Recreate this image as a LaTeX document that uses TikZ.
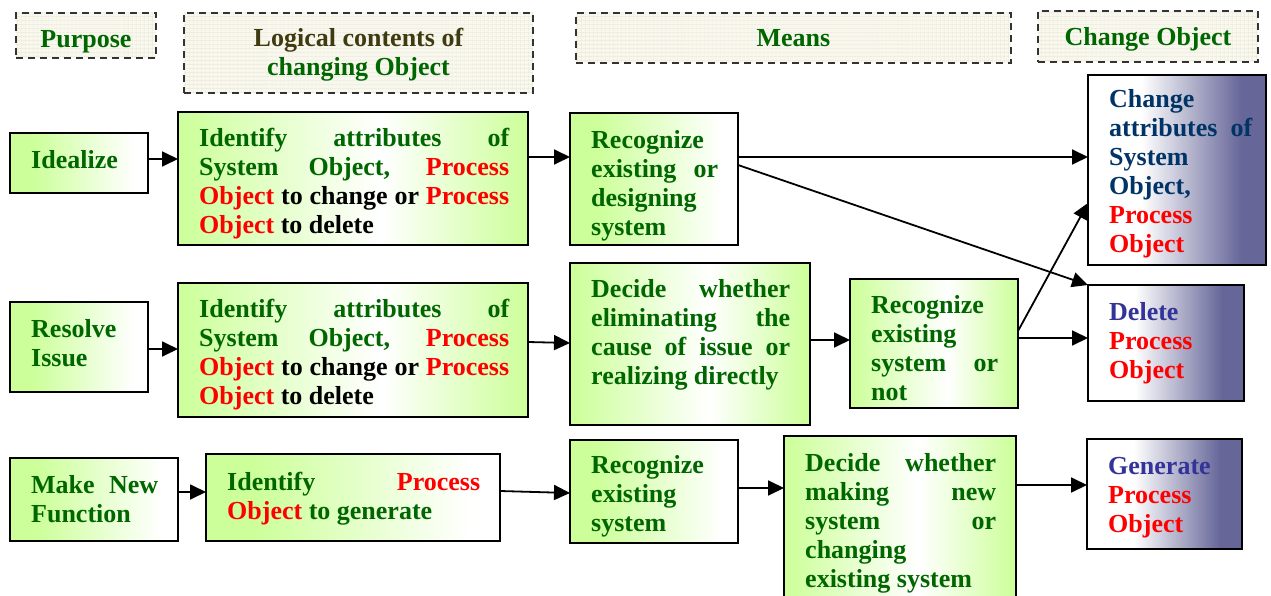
\documentclass[tikz,border=0pt]{standalone}
\usepackage{fontspec}
\setmainfont{Liberation Serif}
\usetikzlibrary{arrows.meta,patterns.meta,calc}
\definecolor{dg}{RGB}{0,102,0}
\definecolor{lg}{RGB}{204,255,153}
\definecolor{pu}{RGB}{102,102,153}
\definecolor{nv}{RGB}{0,51,102}
\definecolor{bp}{RGB}{51,51,153}
\definecolor{ol}{RGB}{64,58,16}
\definecolor{cream}{RGB}{249,248,238}
\definecolor{gridc}{RGB}{234,232,214}
\pgfdeclarehorizontalshading{gw}{100bp}{color(0bp)=(lg); color(25bp)=(lg); color(33bp)=(lg); color(70bp)=(white); color(100bp)=(white)}
\pgfdeclarehorizontalshading{gwg}{100bp}{color(0bp)=(lg); color(25bp)=(lg); color(54bp)=(white); color(75bp)=(lg); color(100bp)=(lg)}
\pgfdeclarehorizontalshading{wp}{100bp}{color(0bp)=(white); color(25bp)=(white); color(40bp)=(white); color(68bp)=(pu); color(100bp)=(pu)}
\newcommand\fs{\fontsize{26}{29}\selectfont\bfseries\hyphenpenalty=10000 }
\newcommand\rdt[1]{\textcolor{red}{#1}}
\newcommand\bkt[1]{\textcolor{black}{#1}}
% name, x1, y1, x2, y2, shading, text width, y offset, text
\newcommand\bx[9]{%
  \node[shbox, shading=#6, minimum width={(#4-#2)*1pt}, minimum height={(#5-#3)*1pt}] (#1) at (#2,#3) {};
  \begin{scope}
    \clip (#1.north west) rectangle (#1.south east);
    \node[txt, text width=#7pt] (#1t) at ([xshift=21pt,yshift=-#8pt]#1.north west) {\strut #9};
  \end{scope}
  \draw[bord] (#1.north west) rectangle (#1.south east);
}
\begin{document}
\begin{tikzpicture}[x=1pt,y=-1pt,
  shbox/.style={inner sep=0pt, outer sep=0pt, anchor=north west, draw=none},
  bord/.style={draw=black, line width=1.8pt},
  txt/.style={inner sep=0pt, anchor=north west, align=justify, font=\fs, text=dg},
  hdr/.style={draw=black!80, dash pattern=on 7pt off 5pt, line width=1.9pt,
    preaction={fill=cream},
    preaction={pattern={Lines[angle=0,distance=4pt,line width=0.5pt]}, pattern color=gridc},
    preaction={pattern={Lines[angle=90,distance=4pt,line width=0.5pt]}, pattern color=gridc},
    inner sep=0pt, anchor=north west},
  htxt/.style={inner sep=0pt, anchor=north, font=\fs, text=dg, align=center},
  arr/.style={line width=1.8pt, -{Triangle[length=16pt,width=15pt]}}
]
\useasboundingbox (0,0) rectangle (1271,596);
\fill[white] (0,0) rectangle (1271,596);

% headers
\node[hdr, minimum width=140pt, minimum height=45pt] (H1) at (15,12) {};
\node[hdr, minimum width=349pt, minimum height=80pt] (H2) at (183,12) {};
\node[hdr, minimum width=435pt, minimum height=50pt] (H3) at (575,12) {};
\node[hdr, minimum width=220pt, minimum height=51pt] (H4) at (1037,10) {};
\node[htxt] (H1t) at (H1.center |- 0,27) {\strut Purpose};
\node[htxt] (H2t) at (H2.center |- 0,26) {\strut\textcolor{ol}{Logical contents of}\\changing Object};
\node[htxt] (H3t) at (H3.center |- 0,26.5) {\strut Means};
\node[htxt] (H4t) at (H4.center |- 0,25) {\strut Change Object};

% row 1
\bx{A1}{10}{133}{148}{193}{gw}{96}{15}{Idealize}
\bx{B1}{178}{112}{528}{245}{gwg}{310}{14}{Identify attributes of\linebreak System Object, \rdt{Process}\linebreak \rdt{Object} \bkt{to change or} \rdt{Process}\linebreak \rdt{Object} \bkt{to delete}}
\bx{C1}{570}{113}{738}{245}{gw}{127}{15}{Recognize\linebreak existing or\linebreak designing\linebreak system}
\bx{D1}{1088}{75}{1266}{265}{wp}{143}{12}{\textcolor{nv}{Change\linebreak attributes of\linebreak System\linebreak Object,}\linebreak \rdt{Process\linebreak Object}}

% row 2
\bx{A2}{10}{302}{148}{392}{gw}{96}{15}{Resolve\linebreak Issue}
\bx{B2}{178}{283}{528}{417}{gwg}{310}{14}{Identify attributes of\linebreak System Object, \rdt{Process}\linebreak \rdt{Object} \bkt{to change or} \rdt{Process}\linebreak \rdt{Object} \bkt{to delete}}
\bx{C2}{570}{263}{810}{425}{gwg}{199}{14}{Decide whether\linebreak eliminating the\linebreak cause of issue or\linebreak realizing directly}
\bx{E2}{850}{279}{1018}{408}{gwg}{127}{14}{Recognize\linebreak existing\linebreak system or\linebreak not}
\bx{D2}{1088}{285}{1244}{401}{wp}{115}{15}{\textcolor{bp}{Delete}\linebreak \rdt{Process\linebreak Object}}

% row 3
\bx{A3}{10}{458}{178}{541}{gw}{127}{15}{Make New\linebreak Function}
\bx{B3}{206}{454}{500}{541}{gw}{253}{16}{Identify \rdt{Process}\linebreak \rdt{Object} to generate}
\bx{C3}{570}{440}{738}{543}{gw}{127}{13}{Recognize\linebreak existing\linebreak system}
\bx{E3}{784}{436}{1016}{606}{gwg}{191}{15}{Decide whether\linebreak making new\linebreak system or\linebreak changing\linebreak existing system}
\bx{D3}{1087}{439}{1242}{549}{wp}{115}{15}{\textcolor{bp}{Generate}\linebreak \rdt{Process\linebreak Object}}

% connectors
\draw[arr] (A1.east |- 0,159) -- (B1.west |- 0,159);
\draw[arr] (B1.east |- 0,157) -- (C1.west |- 0,157);
\draw[arr] (C1.east |- 0,157) -- (D1.west |- 0,157);
\draw[arr] (C1.east |- 0,165) -- (D2.north west);
\draw[arr] (A2.east |- 0,349) -- (B2.west |- 0,349);
\draw[arr] (B2.east |- 0,342) -- (C2.west |- 0,343);
\draw[arr] (C2.east |- 0,340) -- (E2.west |- 0,340);
\draw[arr] (E2.east |- 0,338) -- (D2.west |- 0,338);
\draw[arr] (E2.east |- 0,331) -- (D1.west |- 0,203);
\draw[arr] (A3.east |- 0,492) -- (B3.west |- 0,492);
\draw[arr] (B3.east |- 0,491) -- (C3.west |- 0,493);
\draw[arr] (C3.east |- 0,488) -- (E3.west |- 0,488);
\draw[arr] (E3.east |- 0,485) -- (D3.west |- 0,485);
\end{tikzpicture}
\end{document}
